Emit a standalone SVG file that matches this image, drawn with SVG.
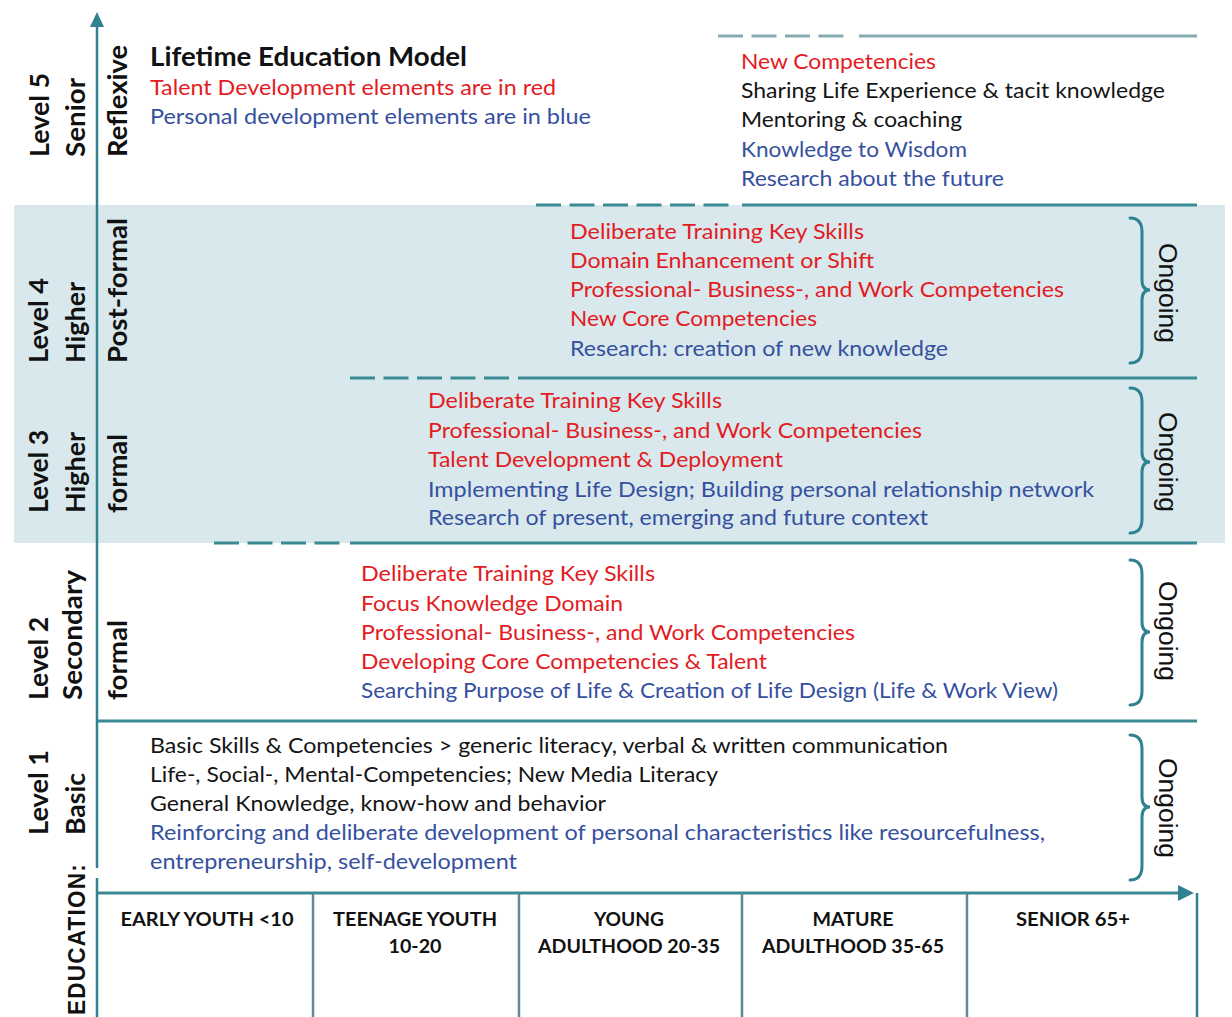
<svg xmlns="http://www.w3.org/2000/svg" width="1232" height="1017" viewBox="0 0 1232 1017">
<style>
.t{font-family:Lato,"Noto Sans","Liberation Sans",sans-serif;font-size:21px;}
.r{fill:#e31b23;}
.b{fill:#3650a0;}
.k{fill:#141414;}
.title{font-family:Lato,"Noto Sans","Liberation Sans",sans-serif;font-size:26px;font-weight:700;fill:#111;}
.lab{font-family:Lato,"Noto Sans","Liberation Sans",sans-serif;font-size:26px;font-weight:700;fill:#111;}
.age{font-family:Lato,"Noto Sans","Liberation Sans",sans-serif;font-size:19px;font-weight:700;fill:#111;text-anchor:middle;}
.on{font-family:"Liberation Sans",Arial,sans-serif;font-size:26px;fill:#111;}
.edu{font-family:"Liberation Sans",Arial,sans-serif;font-size:23px;font-weight:700;fill:#111;letter-spacing:1.2px;}
.ln{stroke:#3a8a93;stroke-width:3;fill:none;}
.dash{stroke:#3a8a93;stroke-width:3;fill:none;stroke-dasharray:25 8.5;}
.top{stroke:#86abb0;stroke-width:3;fill:none;}
.topd{stroke:#86abb0;stroke-width:3;fill:none;stroke-dasharray:25 8.5;}
.ax{stroke:#2f8290;stroke-width:2.5;fill:none;}
.div{stroke:#5f8a90;stroke-width:2.5;fill:none;}
.br{stroke:#2f8290;stroke-width:3;fill:none;stroke-linecap:round;}
</style>
<rect x="0" y="0" width="1232" height="1017" fill="#ffffff"/>
<rect id="band" x="14" y="205" width="1211" height="338" fill="#d8e8ec"/>

<g id="connectors">
  <line class="topd" x1="718" y1="36" x2="850" y2="36"/>
  <line class="top" x1="859" y1="36" x2="1197" y2="36"/>
  <line class="dash" x1="536" y1="205" x2="735" y2="205"/>
  <line class="ln" x1="742" y1="205" x2="1197" y2="205"/>
  <line class="dash" x1="350" y1="378" x2="512" y2="378"/>
  <line class="ln" x1="518" y1="378" x2="1197" y2="378"/>
  <line class="dash" x1="214" y1="543" x2="344" y2="543"/>
  <line class="ln" x1="350" y1="543" x2="1197" y2="543"/>
  <line class="ln" x1="97" y1="721" x2="1197" y2="721"/>
  <line class="ax" x1="97" y1="24" x2="97" y2="868"/>
  <line class="ax" x1="97" y1="878" x2="97" y2="1017"/>
  <polygon points="97,12 90,27 104,27" fill="#2f8290"/>
  <line class="ln" x1="97" y1="893" x2="1182" y2="893"/>
  <polygon points="1194,893 1178,885 1178,901" fill="#2f8290"/>
  <line class="ax" x1="1197" y1="893" x2="1197" y2="1017"/>
  <line class="div" x1="313" y1="893" x2="313" y2="1017"/>
  <line class="div" x1="519" y1="893" x2="519" y2="1017"/>
  <line class="div" x1="742" y1="893" x2="742" y2="1017"/>
  <line class="div" x1="967" y1="893" x2="967" y2="1017"/>
  <path class="br" d="M1130,218 Q1142,218 1142,232 L1142,280 Q1142,290 1150,290 Q1142,290 1142,300 L1142,349 Q1142,363 1130,363"/>
  <path class="br" d="M1130,388 Q1142,388 1142,402 L1142,452 Q1142,462 1150,462 Q1142,462 1142,472 L1142,519 Q1142,533 1130,533"/>
  <path class="br" d="M1130,560 Q1142,560 1142,574 L1142,622 Q1142,632 1150,632 Q1142,632 1142,642 L1142,691 Q1142,705 1130,705"/>
  <path class="br" d="M1130,735 Q1142,735 1142,749 L1142,797 Q1142,807 1150,807 Q1142,807 1142,817 L1142,866 Q1142,880 1130,880"/>
</g>

<g id="level5">
  <text class="lab" transform="translate(49,157) rotate(-90)" textLength="84" lengthAdjust="spacingAndGlyphs">Level 5</text>
  <text class="lab" transform="translate(85,157) rotate(-90)" textLength="79" lengthAdjust="spacingAndGlyphs">Senior</text>
  <text class="lab" transform="translate(127,157) rotate(-90)" textLength="112" lengthAdjust="spacingAndGlyphs">Reflexive</text>
  <text class="title" x="150" y="66" textLength="317" lengthAdjust="spacingAndGlyphs">Lifetime Education Model</text>
  <text class="t r" x="150" y="95" textLength="406" lengthAdjust="spacingAndGlyphs">Talent Development elements are in red</text>
  <text class="t b" x="150" y="124" textLength="441" lengthAdjust="spacingAndGlyphs">Personal development elements are in blue</text>
  <text class="t r" x="741" y="69" textLength="195" lengthAdjust="spacingAndGlyphs">New Competencies</text>
  <text class="t k" x="741" y="98" textLength="424" lengthAdjust="spacingAndGlyphs">Sharing Life Experience &amp; tacit knowledge</text>
  <text class="t k" x="741" y="127" textLength="221" lengthAdjust="spacingAndGlyphs">Mentoring &amp; coaching</text>
  <text class="t b" x="741" y="157" textLength="226" lengthAdjust="spacingAndGlyphs">Knowledge to Wisdom</text>
  <text class="t b" x="741" y="186" textLength="263" lengthAdjust="spacingAndGlyphs">Research about the future</text>
</g>

<g id="level4">
  <text class="lab" transform="translate(48,363) rotate(-90)" textLength="85" lengthAdjust="spacingAndGlyphs">Level 4</text>
  <text class="lab" transform="translate(85,363) rotate(-90)" textLength="81" lengthAdjust="spacingAndGlyphs">Higher</text>
  <text class="lab" transform="translate(127,363) rotate(-90)" textLength="145" lengthAdjust="spacingAndGlyphs">Post-formal</text>
  <text class="t r" x="570" y="239" textLength="294" lengthAdjust="spacingAndGlyphs">Deliberate Training Key Skills</text>
  <text class="t r" x="570" y="268" textLength="304" lengthAdjust="spacingAndGlyphs">Domain Enhancement or Shift</text>
  <text class="t r" x="570" y="297" textLength="494" lengthAdjust="spacingAndGlyphs">Professional- Business-, and Work Competencies</text>
  <text class="t r" x="570" y="326" textLength="247" lengthAdjust="spacingAndGlyphs">New Core Competencies</text>
  <text class="t b" x="570" y="356" textLength="378" lengthAdjust="spacingAndGlyphs">Research: creation of new knowledge</text>
  <text class="on" transform="translate(1159,243) rotate(90)" textLength="100" lengthAdjust="spacingAndGlyphs">Ongoing</text>
</g>

<g id="level3">
  <text class="lab" transform="translate(48,513) rotate(-90)" textLength="83" lengthAdjust="spacingAndGlyphs">Level 3</text>
  <text class="lab" transform="translate(85,513) rotate(-90)" textLength="81" lengthAdjust="spacingAndGlyphs">Higher</text>
  <text class="lab" transform="translate(127,513) rotate(-90)" textLength="79" lengthAdjust="spacingAndGlyphs">formal</text>
  <text class="t r" x="428" y="408" textLength="294" lengthAdjust="spacingAndGlyphs">Deliberate Training Key Skills</text>
  <text class="t r" x="428" y="438" textLength="494" lengthAdjust="spacingAndGlyphs">Professional- Business-, and Work Competencies</text>
  <text class="t r" x="428" y="467" textLength="355" lengthAdjust="spacingAndGlyphs">Talent Development &amp; Deployment</text>
  <text class="t b" x="428" y="497" textLength="666" lengthAdjust="spacingAndGlyphs">Implementing Life Design; Building personal relationship network</text>
  <text class="t b" x="428" y="525" textLength="500" lengthAdjust="spacingAndGlyphs">Research of present, emerging and future context</text>
  <text class="on" transform="translate(1159,412) rotate(90)" textLength="100" lengthAdjust="spacingAndGlyphs">Ongoing</text>
</g>

<g id="level2">
  <text class="lab" transform="translate(48,700) rotate(-90)" textLength="83" lengthAdjust="spacingAndGlyphs">Level 2</text>
  <text class="lab" transform="translate(82,700) rotate(-90)" textLength="130" lengthAdjust="spacingAndGlyphs">Secondary</text>
  <text class="lab" transform="translate(127,700) rotate(-90)" textLength="80" lengthAdjust="spacingAndGlyphs">formal</text>
  <text class="t r" x="361" y="581" textLength="294" lengthAdjust="spacingAndGlyphs">Deliberate Training Key Skills</text>
  <text class="t r" x="361" y="611" textLength="262" lengthAdjust="spacingAndGlyphs">Focus Knowledge Domain</text>
  <text class="t r" x="361" y="640" textLength="494" lengthAdjust="spacingAndGlyphs">Professional- Business-, and Work Competencies</text>
  <text class="t r" x="361" y="669" textLength="406" lengthAdjust="spacingAndGlyphs">Developing Core Competencies &amp; Talent</text>
  <text class="t b" x="361" y="698" textLength="697" lengthAdjust="spacingAndGlyphs">Searching Purpose of Life &amp; Creation of Life Design (Life &amp; Work View)</text>
  <text class="on" transform="translate(1159,581) rotate(90)" textLength="100" lengthAdjust="spacingAndGlyphs">Ongoing</text>
</g>

<g id="level1">
  <text class="lab" transform="translate(48,835) rotate(-90)" textLength="85" lengthAdjust="spacingAndGlyphs">Level 1</text>
  <text class="lab" transform="translate(85,835) rotate(-90)" textLength="62" lengthAdjust="spacingAndGlyphs">Basic</text>
  <text class="t k" x="150" y="753" textLength="798" lengthAdjust="spacingAndGlyphs">Basic Skills &amp; Competencies &gt; generic literacy, verbal &amp; written communication</text>
  <text class="t k" x="150" y="782" textLength="568" lengthAdjust="spacingAndGlyphs">Life-, Social-, Mental-Competencies; New Media Literacy</text>
  <text class="t k" x="150" y="811" textLength="456" lengthAdjust="spacingAndGlyphs">General Knowledge, know-how and behavior</text>
  <text class="t b" x="150" y="840" textLength="895" lengthAdjust="spacingAndGlyphs">Reinforcing and deliberate development of personal characteristics like resourcefulness,</text>
  <text class="t b" x="150" y="869" textLength="367" lengthAdjust="spacingAndGlyphs">entrepreneurship, self-development</text>
  <text class="on" transform="translate(1159,758) rotate(90)" textLength="100" lengthAdjust="spacingAndGlyphs">Ongoing</text>
</g>

<g id="education-label">
  <text class="edu" transform="translate(85,1015) rotate(-90)" textLength="152" lengthAdjust="spacingAndGlyphs">EDUCATION:</text>
</g>

<g id="ages">
  <text class="age" x="207" y="926" textLength="173" lengthAdjust="spacingAndGlyphs">EARLY YOUTH &lt;10</text>
  <text class="age" x="415" y="926" textLength="164" lengthAdjust="spacingAndGlyphs">TEENAGE YOUTH</text>
  <text class="age" x="415" y="953" textLength="53" lengthAdjust="spacingAndGlyphs">10-20</text>
  <text class="age" x="629" y="926" textLength="70" lengthAdjust="spacingAndGlyphs">YOUNG</text>
  <text class="age" x="629" y="953" textLength="182" lengthAdjust="spacingAndGlyphs">ADULTHOOD 20-35</text>
  <text class="age" x="853" y="926" textLength="81" lengthAdjust="spacingAndGlyphs">MATURE</text>
  <text class="age" x="853" y="953" textLength="182" lengthAdjust="spacingAndGlyphs">ADULTHOOD 35-65</text>
  <text class="age" x="1073" y="926" textLength="114" lengthAdjust="spacingAndGlyphs">SENIOR 65+</text>
</g>
</svg>
